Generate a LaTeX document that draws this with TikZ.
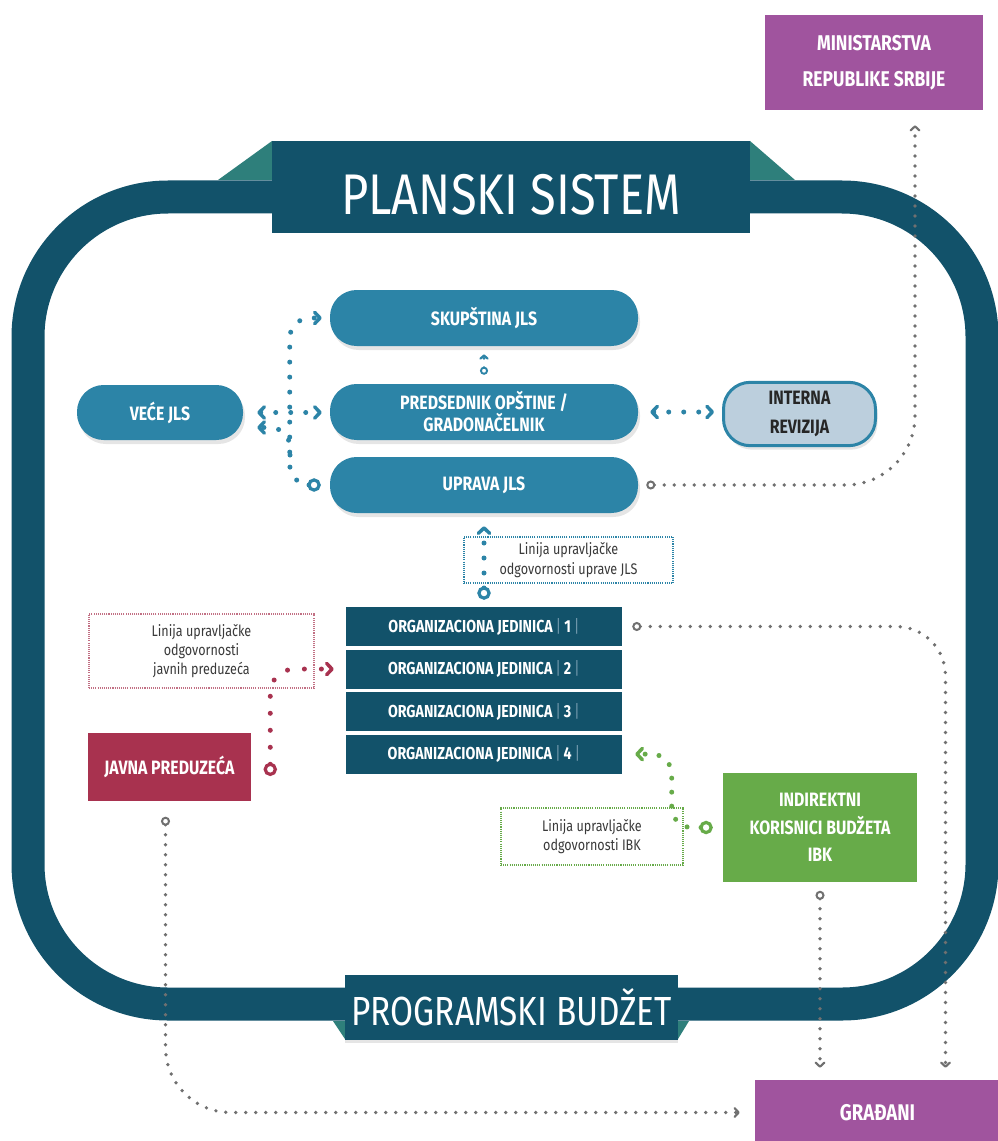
\documentclass[tikz,border=0pt]{standalone}
\usepackage{fontspec}
\setmainfont{Fira Sans}[FakeStretch=0.82]
\usetikzlibrary{arrows.meta, calc, positioning, shadows}

\definecolor{deepteal}{HTML}{12526A}
\definecolor{flapteal}{HTML}{2E7F7B}
\definecolor{jlsblue}{HTML}{2C84A7}
\definecolor{paleblue}{HTML}{BCCFDD}
\definecolor{plum}{HTML}{A0549E}
\definecolor{berry}{HTML}{A8324F}
\definecolor{leaf}{HTML}{67AB49}
\definecolor{dotgrey}{HTML}{707070}
\definecolor{notegrey}{HTML}{3A3A3A}
\definecolor{sepblue}{HTML}{6F97AB}

\newcommand\ojnum[1]{{\mdseries\color{sepblue}\,|\,}#1{\mdseries\color{sepblue}\,|}}

\tikzstyle{frame} = [draw=deepteal, line width=24.75pt, rounded corners=105pt]
\tikzstyle{banner} = [rectangle, fill=deepteal, text=white]
\tikzstyle{jls} = [rectangle, rounded corners=20pt, fill=jlsblue, text=white, align=center,
  font=\bfseries\fontsize{14.5}{16.5}\selectfont, drop shadow={shadow xshift=1.5pt, shadow yshift=-3pt, opacity=0.2}]
\tikzstyle{orgunit} = [rectangle, fill=deepteal, text=white, minimum width=207pt, minimum height=29.25pt,
  font=\bfseries\fontsize{13}{15}\selectfont]
\tikzstyle{outside} = [rectangle, fill=plum, text=white, align=center, font=\bfseries\fontsize{16}{27}\selectfont]
\tikzstyle{solidbox} = [rectangle, text=white, align=center, font=\bfseries\fontsize{14.5}{20.6}\selectfont]
\tikzstyle{note} = [rectangle, align=center, text=notegrey, line width=0.8pt, dash pattern=on 0.8pt off 0.8pt,
  font=\fontsize{11.5}{14.5}\selectfont]
\tikzstyle{bluedots} = [draw=jlsblue, line width=3.75pt, line cap=round, dash pattern=on 0pt off 11.25pt, rounded corners=15pt]
\tikzstyle{thindots} = [draw=jlsblue, line width=2.4pt, line cap=round, dash pattern=on 0pt off 7pt]
\tikzstyle{berrydots} = [draw=berry, line width=3.75pt, line cap=round, dash pattern=on 0pt off 12.75pt, rounded corners=18pt]
\tikzstyle{leafdots} = [draw=leaf, line width=3.75pt, line cap=round, dash pattern=on 0pt off 10.5pt, rounded corners=15pt]
\tikzstyle{greydots} = [draw=dotgrey, line width=2.8pt, line cap=round, dash pattern=on 0pt off 7.5pt]

\tikzset{
  ring/.tip={Circle[length=10pt, width=10pt, line width=2.4pt, fill=white]},
  chev/.tip={Straight Barb[length=4pt, width=8.5pt, line width=2.6pt, round]},
  minring/.tip={Circle[length=6pt, width=6pt, line width=1.4pt, fill=white]},
  minchev/.tip={Straight Barb[length=2.6pt, width=5.5pt, line width=1.5pt, round]},
  gring/.tip={Circle[length=6.75pt, width=6.75pt, line width=1.5pt, fill=white]},
  gchev/.tip={Straight Barb[length=3pt, width=6.5pt, line width=1.6pt, round]}
}

\begin{document}
\begin{tikzpicture}[x=0.75pt, y=-0.75pt]
  \fill[white] (0,0) rectangle (997,1141);
  \useasboundingbox (0,0) rectangle (997,1141);

  \draw[frame] (28,197) rectangle (982,1004);

  \fill[flapteal] (218,180) -- (272,141) -- (272,180) -- cycle;
  \fill[flapteal] (750,141) -- (795,180) -- (750,180) -- cycle;
  \node (plan) [banner, minimum width=358.5pt, minimum height=69pt] at (511,187) {};
  \node (plantext) [text=white, font=\fontsize{43}{43}\selectfont] at ($(plan)+(0,8)$) {PLANSKI SISTEM};

  \fill[flapteal] (333,1021) -- (345,1021) -- (345,1039) -- cycle;
  \fill[flapteal] (678,1021) -- (689,1021) -- (678,1039) -- cycle;
  \node (budzet) [banner, minimum width=249.75pt, minimum height=48.75pt, font=\fontsize{30.5}{30.5}\selectfont,
    drop shadow={shadow xshift=0pt, shadow yshift=-2pt, opacity=0.2}] at (511.5,1007.5) {PROGRAMSKI BUDŽET};

  \node (mini) [outside, minimum width=163.5pt, minimum height=71.25pt] at (874,62.5) {MINISTARSTVA\\REPUBLIKE SRBIJE};
  \node (grad) [outside, minimum width=183.75pt, minimum height=48.75pt, font=\bfseries\fontsize{17}{20}\selectfont]
    at (877.5,1112.5) {GRAĐANI};

  \node (skup) [jls, minimum width=231pt, minimum height=42pt] at (484,318) {SKUPŠTINA JLS};
  \node (pred) [jls, minimum width=231pt, minimum height=42pt] at (484,412) {PREDSEDNIK OPŠTINE /\\GRADONAČELNIK};
  \node (uprava) [jls, minimum width=231pt, minimum height=42pt] at (484,485) {UPRAVA JLS};
  \node (vece) [jls, minimum width=124.5pt, minimum height=41.25pt] at (160,412.5) {VEĆE JLS};
  \node (interna) [jls, fill=paleblue, draw=jlsblue, line width=2.25pt, text=black!85, minimum width=114pt,
    minimum height=47.5pt, font=\bfseries\fontsize{14.5}{21.75}\selectfont] at (799.5,414) {INTERNA\\REVIZIJA};

  \node (upnote) [note, draw=jlsblue, minimum width=156.75pt, minimum height=34.5pt] at (568.5,560)
    {Linija upravljačke\\odgovornosti uprave JLS};

  \node (oj1) [orgunit] at (484,626.5) {ORGANIZACIONA JEDINICA\ojnum{1}};
  \node (oj2) [orgunit, below=2.25pt of oj1] {ORGANIZACIONA JEDINICA\ojnum{2}};
  \node (oj3) [orgunit, below=2.25pt of oj2] {ORGANIZACIONA JEDINICA\ojnum{3}};
  \node (oj4) [orgunit, below=2.25pt of oj3] {ORGANIZACIONA JEDINICA\ojnum{4}};

  \node (jpnote) [note, draw=berry!70, minimum width=168.75pt, minimum height=55.5pt] at (201.5,651)
    {Linija upravljačke\\odgovornosti\\javnih preduzeća};
  \node (javna) [solidbox, fill=berry, minimum width=122.25pt, minimum height=51pt] at (169.5,767) {JAVNA PREDUZEĆA};

  \node (ibknote) [note, draw=leaf, minimum width=136.5pt, minimum height=42.75pt] at (592,836.5)
    {Linija upravljačke\\odgovornosti IBK};
  \node (ibk) [solidbox, fill=leaf, minimum width=145.5pt, minimum height=81.75pt] at (820,827.5)
    {INDIREKTNI\\KORISNICI BUDŽETA\\IBK};

  \coordinate (fork) at (290,455);
  \draw[bluedots, ring-chev, shorten <=6.75pt, shorten >=6pt] (uprava.west) -- ++(-40,0) |- (skup.west);
  \draw[bluedots, -chev, shorten >=10.5pt] (fork) |- ($(vece.east)+(0,15)$);
  \draw[bluedots, chev-chev, shorten <=10.5pt, shorten >=6pt] (vece.east) -- (vece.east -| pred.west);
  \draw[thindots, minring-minchev, shorten <=6.75pt, shorten >=6pt] (pred.north) -- (skup.south);
  \draw[bluedots, chev-chev, shorten <=9pt, shorten >=6pt] (pred.east) -- (pred.east -| interna.west);
  \draw[bluedots, ring-chev, shorten <=5.25pt, shorten >=9.75pt] (oj1.north) -- (uprava.south);

  \draw[berrydots, ring-chev, shorten >=9pt] ($(javna.east)+(19,9)$) |- (oj2.west);
  \draw[leafdots, ring-chev, shorten <=7.5pt, shorten >=9.75pt] (ibk.west) -- ++(-51,0) |- (oj4.east);

  \draw[greydots, gring-gchev, rounded corners=52pt, shorten <=6pt, shorten >=11.25pt]
    (uprava.east) -| ($(mini.south)+(41,0)$);
  \draw[greydots, gring-gchev, rounded corners=37pt, shorten <=7.5pt, shorten >=9pt]
    (oj1.east) -| ($(grad.north)+(68,0)$);
  \draw[greydots, gring-gchev, rounded corners=49pt, shorten <=11.6pt, shorten >=11.25pt]
    ($(javna.south)+(-4,0)$) |- (grad.west);
  \draw[greydots, gring-gchev, shorten <=6.4pt, shorten >=9pt] (ibk.south) -- (ibk.south |- grad.north);
\end{tikzpicture}
\end{document}
